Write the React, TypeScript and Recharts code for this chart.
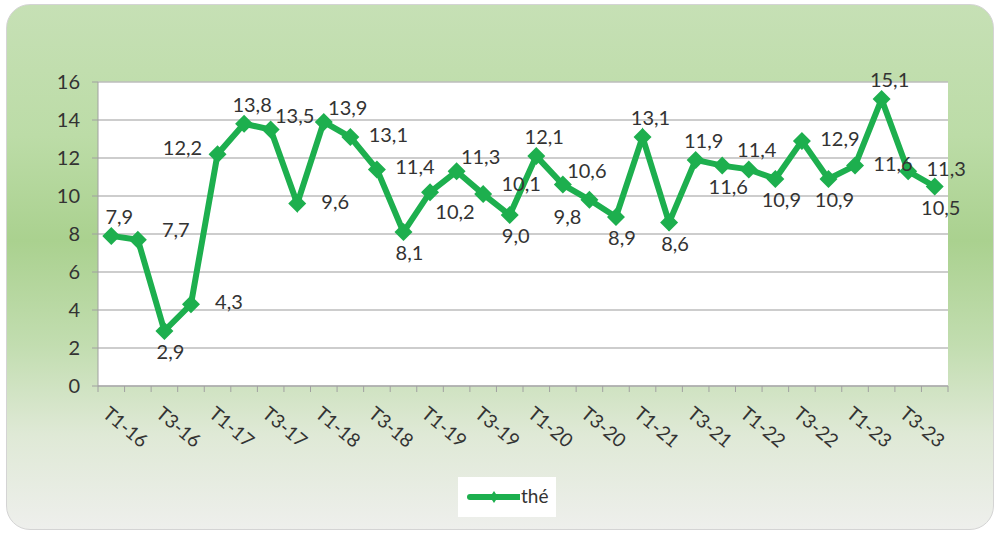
import React from "react";
import {
  LineChart,
  Line,
  XAxis,
  YAxis,
  CartesianGrid,
  LabelList,
} from "recharts";

const categories = [
  "T1-16", "T2-16", "T3-16", "T4-16",
  "T1-17", "T2-17", "T3-17", "T4-17",
  "T1-18", "T2-18", "T3-18", "T4-18",
  "T1-19", "T2-19", "T3-19", "T4-19",
  "T1-20", "T2-20", "T3-20", "T4-20",
  "T1-21", "T2-21", "T3-21", "T4-21",
  "T1-22", "T2-22", "T3-22", "T4-22",
  "T1-23", "T2-23", "T3-23", "T4-23",
];

const theValues = [
  7.9, 7.7, 2.9, 4.3,
  12.2, 13.8, 13.5, 9.6,
  13.9, 13.1, 11.4, 8.1,
  10.2, 11.3, 10.1, 9.0,
  12.1, 10.6, 9.8, 8.9,
  13.1, 8.6, 11.9, 11.6,
  11.4, 10.9, 12.9, 10.9,
  11.6, 15.1, 11.3, 10.5,
];

// where each data label sits relative to its point
const labelSide = [
  "top", "upRight", "bottom", "right",
  "left", "top", "topRight", "right",
  "topRight", "right", "right", "bottom",
  "bottomRight", "topRight", "upRight", "bottom",
  "top", "topRight", "bottomLeft", "bottom",
  "top", "bottom", "top", "bottom",
  "top", "bottom", "right", "bottom",
  "right", "top", "right", "bottom",
];

const yTicks = [0, 2, 4, 6, 8, 10, 12, 14, 16];

const data = categories.map((c, i) => ({ name: c, value: theValues[i] }));

const GREEN = "#1daf4e";
const FONT = "Lato, 'Open Sans', sans-serif";
const AXIS = "#a0a0a0";

const sideOffset: Record<string, [number, number]> = {
  top: [8, -20],
  topRight: [24, -15],
  upRight: [38, -11],
  right: [38, -3],
  bottomRight: [25, 19],
  bottom: [6, 20],
  bottomLeft: [-22, 16],
  left: [-35, -7],
};

const Diamond = (props: any) => {
  const { cx, cy } = props;
  if (cx == null || cy == null) return null;
  const r = 9;
  return (
    <polygon
      points={`${cx},${cy - r} ${cx + r},${cy} ${cx},${cy + r} ${cx - r},${cy}`}
      fill={GREEN}
    />
  );
};

const ValueLabel = (props: any) => {
  const { x, y, index, value } = props;
  const [dx, dy] = sideOffset[labelSide[index]] || [0, -20];
  return (
    <text
      x={x + dx}
      y={y + dy}
      textAnchor="middle"
      dominantBaseline="central"
      fontSize={20}
      fontFamily={FONT}
      fill="#333"
    >
      {Number(value).toFixed(1).replace(".", ",")}
    </text>
  );
};

// Excel style: tick marks between categories, label on every other one
const CatTick = (props: any) => {
  const { x, y, payload, index } = props;
  const half = payload && payload.offset ? payload.offset : 850 / categories.length / 2;
  const last = index === categories.length - 1;
  return (
    <g>
      <line x1={x - half} y1={y} x2={x - half} y2={y + 6} stroke={AXIS} />
      {last && <line x1={x + half} y1={y} x2={x + half} y2={y + 6} stroke={AXIS} />}
      {index % 2 === 0 && (
        <text
          x={x}
          y={y + 18}
          transform={`rotate(40 ${x} ${y + 18})`}
          textAnchor="start"
          dominantBaseline="hanging"
          fontSize={19}
          fontFamily={FONT}
          fill="#333"
        >
          {payload.value}
        </text>
      )}
    </g>
  );
};

export default function App() {
  return (
    <div style={{ position: "fixed", left: 0, top: 0, width: 1000, height: 534, background: "#fff" }}>
      <div
        style={{
          position: "absolute",
          left: 6,
          top: 4,
          width: 986,
          height: 524,
          borderRadius: 24,
          border: "1px solid #d4d4d4",
          background:
            "linear-gradient(180deg, #c6e0b5 0%, #bcdca7 25%, #aad18f 45%, #c2ddb0 65%, #dfe9d6 82%, #eeefec 100%)",
        }}
      />
      <div style={{ position: "absolute", left: 0, top: 0 }}>
        <LineChart
          width={1000}
          height={534}
          data={data}
          margin={{ top: 82, right: 52, left: 48, bottom: 20 }}
        >
          <CartesianGrid
            vertical={false}
            stroke="#bdbdbd"
            strokeWidth={1.5}
            fill="#fff"
          />
          <XAxis
            dataKey="name"
            scale="band"
            interval={0}
            tick={<CatTick />}
            tickLine={false}
            axisLine={{ stroke: AXIS }}
            tickSize={0}
            tickMargin={0}
            height={128}
          />
          <YAxis
            domain={[0, 16]}
            ticks={yTicks}
            width={50}
            tickSize={6}
            tickMargin={12}
            tick={{ fontSize: 20, fontFamily: FONT, fill: "#333" }}
            tickLine={{ stroke: AXIS }}
            axisLine={{ stroke: AXIS }}
          />
          <Line
            dataKey="value"
            stroke={GREEN}
            strokeWidth={6}
            dot={<Diamond />}
            activeDot={false}
            isAnimationActive={false}
          >
            <LabelList dataKey="value" content={<ValueLabel />} />
          </Line>
        </LineChart>
      </div>
      <div
        style={{
          position: "absolute",
          left: 458,
          top: 477,
          width: 98,
          height: 40,
          background: "#fff",
        }}
      >
        <svg width={62} height={40} style={{ position: "absolute", left: 0, top: 0 }}>
          <line x1={12} y1={20} x2={61} y2={20} stroke={GREEN} strokeWidth={6} strokeLinecap="round" />
          <polygon points="36,14 40,20 36,26 32,20" fill={GREEN} />
        </svg>
        <span
          style={{
            position: "absolute",
            left: 63,
            top: 8,
            fontSize: 19,
            lineHeight: "22px",
            fontFamily: FONT,
            color: "#333",
          }}
        >
          thé
        </span>
      </div>
    </div>
  );
}
